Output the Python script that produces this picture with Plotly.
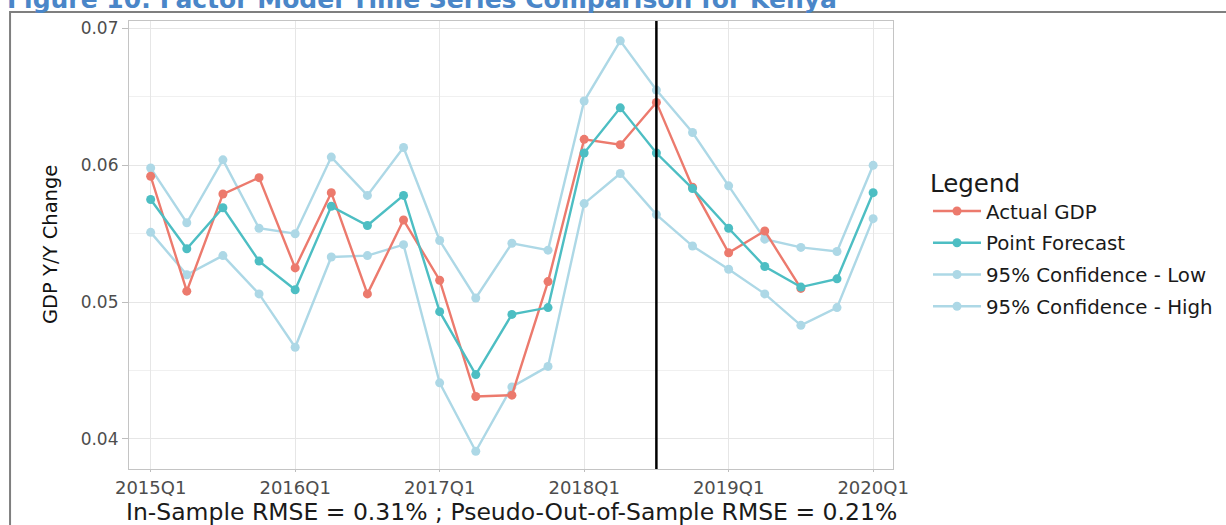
import plotly.graph_objects as go

# ---------------- data ----------------
quarters = [
    "2015Q1", "2015Q2", "2015Q3", "2015Q4",
    "2016Q1", "2016Q2", "2016Q3", "2016Q4",
    "2017Q1", "2017Q2", "2017Q3", "2017Q4",
    "2018Q1", "2018Q2", "2018Q3", "2018Q4",
    "2019Q1", "2019Q2", "2019Q3", "2019Q4",
    "2020Q1",
]
actual_gdp = [
    0.0592, 0.0508, 0.0579, 0.0591,
    0.0525, 0.0580, 0.0506, 0.0560,
    0.0516, 0.0431, 0.0432, 0.0515,
    0.0619, 0.0615, 0.0646, 0.0584,
    0.0536, 0.0552, 0.0510,
]
point_forecast = [
    0.0575, 0.0539, 0.0569, 0.0530,
    0.0509, 0.0570, 0.0556, 0.0578,
    0.0493, 0.0447, 0.0491, 0.0496,
    0.0609, 0.0642, 0.0609, 0.0583,
    0.0554, 0.0526, 0.0511, 0.0517,
    0.0580,
]
ci_low = [
    0.0551, 0.0520, 0.0534, 0.0506,
    0.0467, 0.0533, 0.0534, 0.0542,
    0.0441, 0.0391, 0.0438, 0.0453,
    0.0572, 0.0594, 0.0564, 0.0541,
    0.0524, 0.0506, 0.0483, 0.0496,
    0.0561,
]
ci_high = [
    0.0598, 0.0558, 0.0604, 0.0554,
    0.0550, 0.0606, 0.0578, 0.0613,
    0.0545, 0.0503, 0.0543, 0.0538,
    0.0647, 0.0691, 0.0655, 0.0624,
    0.0585, 0.0546, 0.0540, 0.0537,
    0.0600,
]
series_names = ["Actual GDP", "Point Forecast", "95% Confidence - Low", "95% Confidence - High"]
year_ticks = ["2015Q1", "2016Q1", "2017Q1", "2018Q1", "2019Q1", "2020Q1"]
y_major = [0.04, 0.05, 0.06, 0.07]
y_minor = [0.045, 0.055, 0.065]
split_quarter = "2018Q3"

title_text = "Figure 10: Factor Model Time Series Comparison for Kenya"
x_title = "In-Sample RMSE = 0.31% ; Pseudo-Out-of-Sample RMSE = 0.21%"
y_title = "GDP Y/Y Change"

# ---------------- styles ----------------
C_ACTUAL = "#EC7A6D"
C_POINT = "#4DBEC3"
C_CI = "#ADD8E6"
FONT = "DejaVu Sans"

fig = go.Figure()

def add_series(name, values, color, rank):
    fig.add_trace(go.Scatter(
        x=quarters[:len(values)], y=values, name=name,
        mode="lines+markers",
        line=dict(color=color, width=2.4),
        marker=dict(color=color, size=9),
        legendgroup=name, legendrank=rank,
    ))

add_series(series_names[2], ci_low, C_CI, 3)
add_series(series_names[3], ci_high, C_CI, 4)
add_series(series_names[0], actual_gdp, C_ACTUAL, 1)
add_series(series_names[1], point_forecast, C_POINT, 2)

# vertical split line
fig.add_shape(type="line", xref="x", yref="paper",
              x0=split_quarter, x1=split_quarter, y0=0, y1=1,
              line=dict(color="black", width=2.5), layer="above")

# outer frame of the figure (paper coords)
fig.add_shape(type="rect", xref="paper", yref="paper",
              x0=-0.1557, x1=1.5, y0=-0.3, y1=1.0201,
              line=dict(color="#7F7F7F", width=2), fillcolor="rgba(0,0,0,0)",
              layer="above")

# partially cut title
fig.add_annotation(text="<b>" + title_text + "</b>", xref="paper", yref="paper",
                   x=-0.162, y=1.0469, xanchor="left", yanchor="middle",
                   showarrow=False, font=dict(family=FONT, size=25, color="#4A86C8"))

# axis titles as annotations
fig.add_annotation(text=x_title, xref="paper", yref="paper",
                   x=0.5, y=-0.0965, xanchor="center", yanchor="middle",
                   showarrow=False, font=dict(family=FONT, size=23.5, color="#1A1A1A"))
fig.add_annotation(text=y_title, xref="paper", yref="paper",
                   x=-0.1034, y=0.5, xanchor="center", yanchor="middle", textangle=-90,
                   showarrow=False, font=dict(family=FONT, size=19.5, color="#111111"))

fig.update_layout(
    width=1226, height=525,
    margin=dict(l=129, r=333, t=21, b=56, autoexpand=False),
    paper_bgcolor="white", plot_bgcolor="white",
    font=dict(family=FONT, color="#1A1A1A"),
    showlegend=True,
    legend=dict(
        title=dict(text="Legend", font=dict(size=24.5, color="#1A1A1A")),
        font=dict(size=19.8, color="#1A1A1A"),
        x=1.0458, xanchor="left", y=0.505, yanchor="middle",
        tracegroupgap=3, itemwidth=48,
        bgcolor="rgba(0,0,0,0)",
    ),
    xaxis=dict(
        type="category", categoryorder="array", categoryarray=quarters,
        range=[-0.6, 20.55], automargin=False,
        tickmode="array", tickvals=year_ticks, ticktext=year_ticks,
        tickfont=dict(size=18, color="#4D4D4D"),
        ticks="outside", ticklen=2, tickcolor="#BDBDBD",
        showgrid=True, gridcolor="#E6E6E6", gridwidth=1,
        showline=True, mirror=True, linecolor="#C4C4C4", linewidth=1.2,
        zeroline=False,
    ),
    yaxis=dict(
        range=[0.0378, 0.07055], automargin=False,
        tickmode="array", tickvals=y_major, tickformat=".2f",
        tickfont=dict(size=17, color="#4D4D4D"),
        ticks="outside", ticklen=6, tickcolor="#BDBDBD",
        showgrid=True, gridcolor="#E6E6E6", gridwidth=1,
        minor=dict(tickmode="array", tickvals=y_minor, showgrid=True,
                   gridcolor="#F0F0F0", ticks=""),
        showline=True, mirror=True, linecolor="#C4C4C4", linewidth=1.2,
        zeroline=False,
    ),
)

fig.write_html("out.html", config={"displayModeBar": False},
               post_script="document.body.style.margin='0';")
